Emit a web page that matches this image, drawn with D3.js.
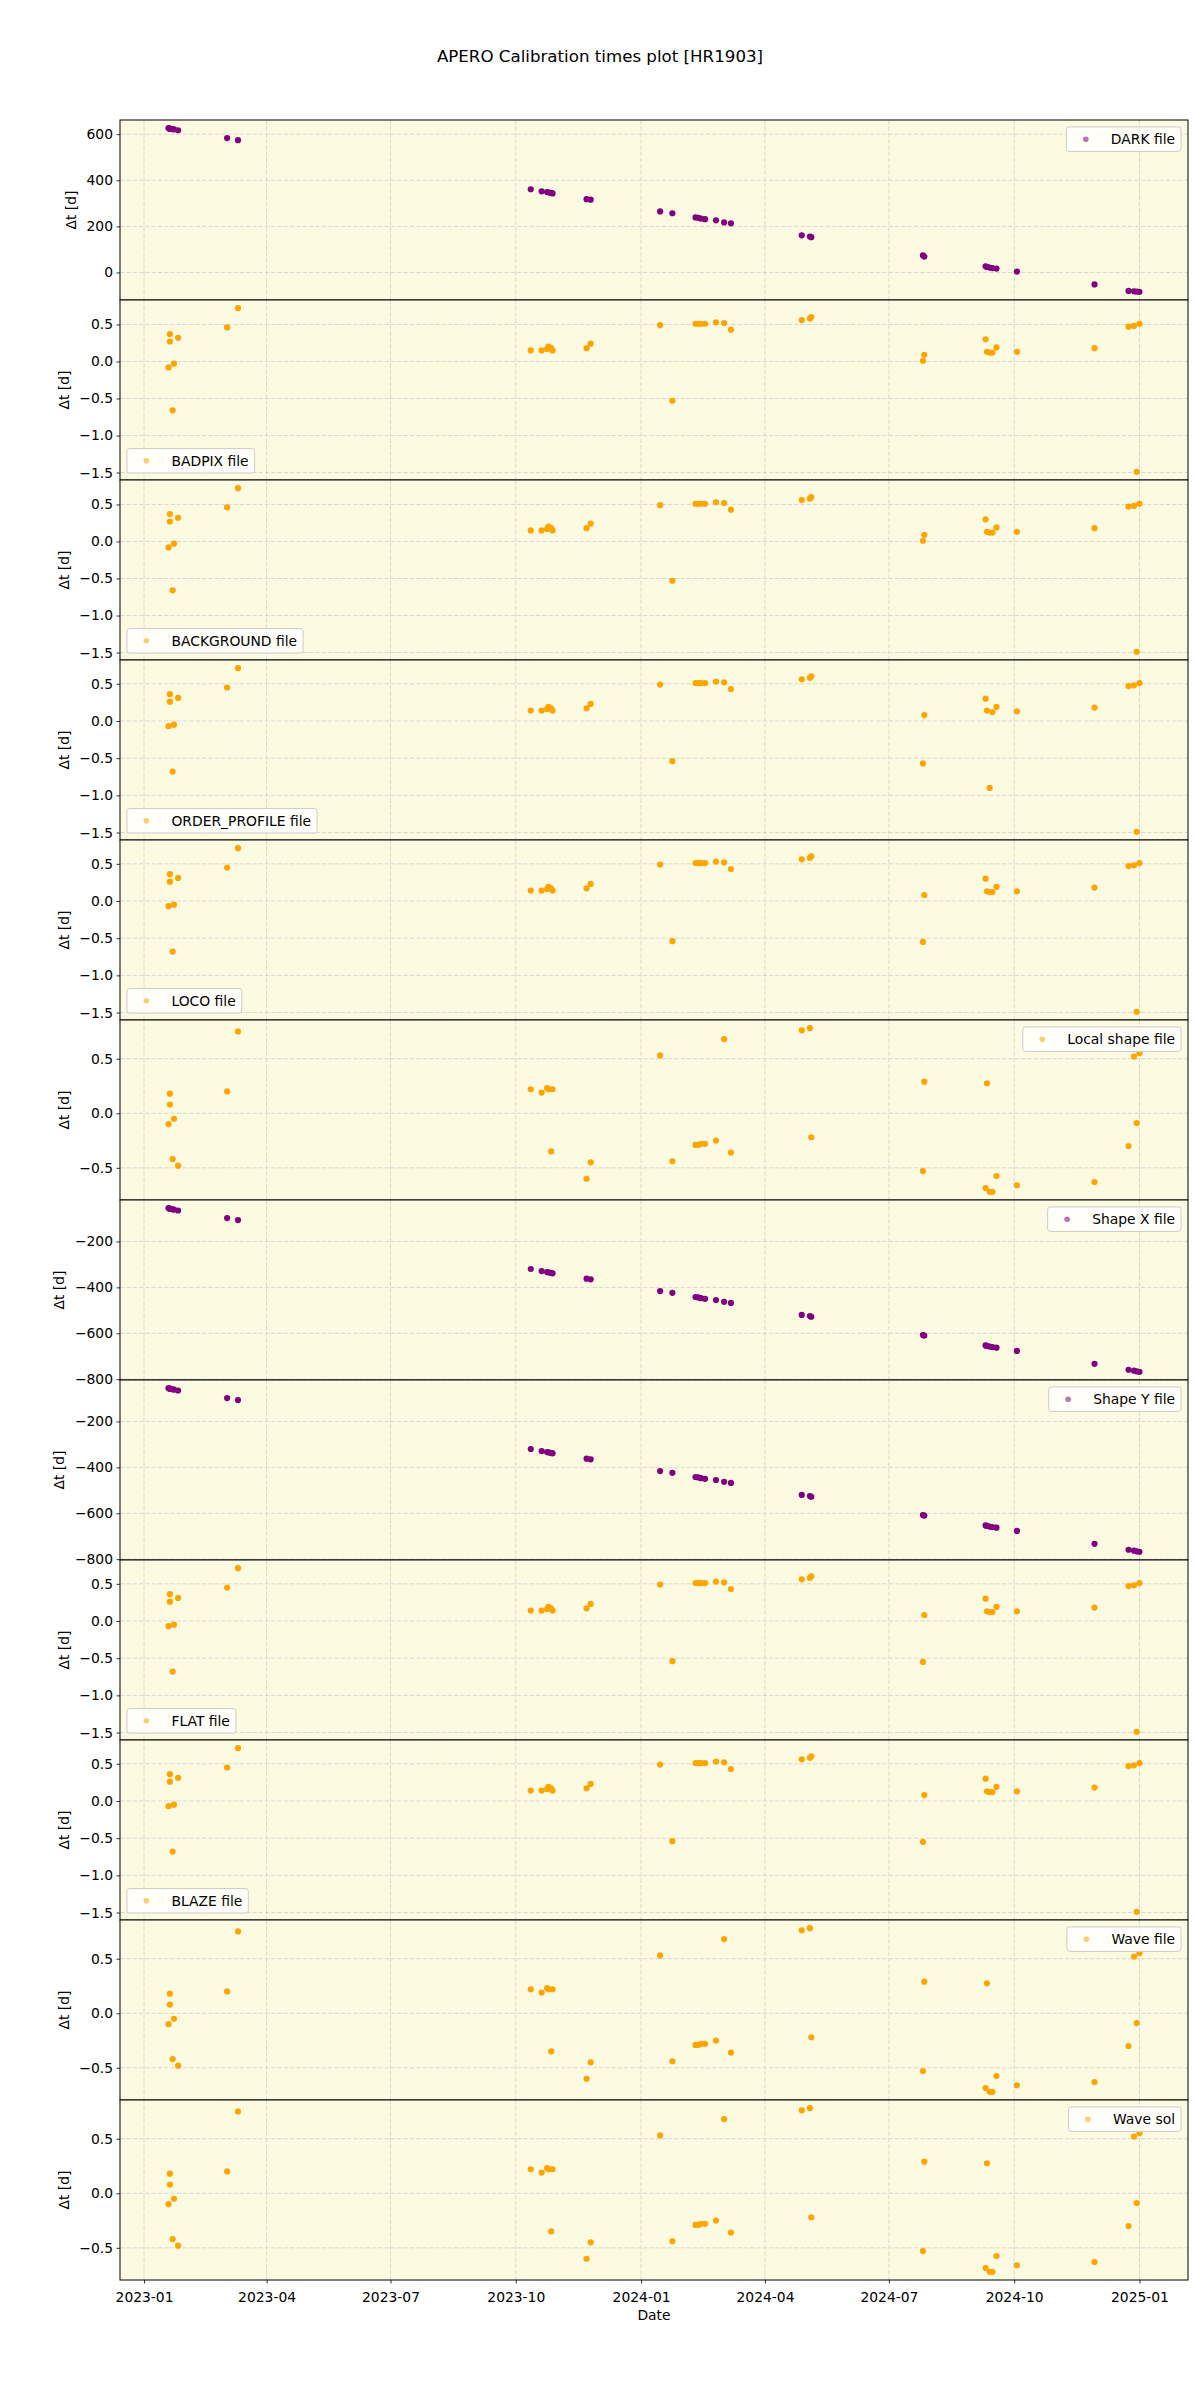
<!DOCTYPE html>
<html><head><meta charset="utf-8">
<script src="https://cdn.jsdelivr.net/npm/d3@7"></script>
<style>body{margin:0;background:#fff} text{font-family:"DejaVu Sans",sans-serif}</style>
</head><body><div id="chart"></div>
<script>
// ---- DATA ----
const obsDates = [
  "2023-01-19","2023-01-20","2023-01-20","2023-01-22","2023-01-23","2023-01-26",
  "2023-03-03","2023-03-11",
  "2023-10-12","2023-10-20","2023-10-24","2023-10-25","2023-10-27","2023-10-28",
  "2023-11-22","2023-11-25",
  "2024-01-15","2024-01-24",
  "2024-02-10","2024-02-12","2024-02-14","2024-02-17","2024-02-25","2024-03-02","2024-03-07",
  "2024-04-28","2024-05-04","2024-05-05",
  "2024-07-26","2024-07-27",
  "2024-09-10","2024-09-11","2024-09-13","2024-09-15","2024-09-18",
  "2024-10-03","2024-11-29",
  "2024-12-24","2024-12-28","2024-12-30","2025-01-01"
];
const darkDt = [626,624,624,622,621,617,583,574,361,352,349,347,345,343,318,316,265,257,239,237,234,231,226,217,213,161,156,153,74,69,27,24,21,19,17,4,-52,-80,-82,-83,-84];
const badpixDt = [-0.08,0.37,0.27,-0.66,-0.03,0.32,0.46,0.72,0.15,0.15,0.17,0.20,0.18,0.15,0.18,0.24,0.49,-0.53,0.51,0.51,0.51,0.51,0.53,0.52,0.43,0.56,0.58,0.60,0.01,0.09,0.30,0.13,0.12,0.12,0.19,0.13,0.18,0.47,0.48,-1.49,0.51];
const backgroundDt = [-0.08,0.37,0.27,-0.66,-0.03,0.32,0.46,0.72,0.15,0.15,0.17,0.20,0.18,0.15,0.18,0.24,0.49,-0.53,0.51,0.51,0.51,0.51,0.53,0.52,0.43,0.56,0.58,0.60,0.01,0.09,0.30,0.13,0.12,0.12,0.19,0.13,0.18,0.47,0.48,-1.49,0.51];
const orderProfileDt = [-0.07,0.36,0.26,-0.68,-0.05,0.31,0.45,0.71,0.14,0.14,0.16,0.19,0.17,0.14,0.17,0.23,0.49,-0.54,0.51,0.51,0.51,0.51,0.53,0.52,0.43,0.56,0.58,0.60,-0.57,0.08,0.30,0.14,-0.90,0.12,0.19,0.13,0.18,0.47,0.48,-1.49,0.51];
const locoDt = [-0.07,0.36,0.26,-0.68,-0.05,0.31,0.45,0.71,0.14,0.14,0.16,0.19,0.17,0.14,0.17,0.23,0.49,-0.54,0.51,0.51,0.51,0.51,0.53,0.52,0.43,0.56,0.58,0.60,-0.55,0.08,0.30,0.13,0.12,0.12,0.19,0.13,0.18,0.47,0.48,-1.49,0.51];
const localShapeDt = [-0.10,0.18,0.08,-0.42,-0.05,-0.48,0.20,0.75,0.22,0.19,0.23,0.22,-0.35,0.22,-0.60,-0.45,0.53,-0.44,-0.29,-0.29,-0.28,-0.28,-0.25,0.68,-0.36,0.76,0.78,-0.22,-0.53,0.29,-0.685,0.275,-0.72,-0.72,-0.575,-0.66,-0.63,-0.30,0.52,-0.09,0.55];
const shapeXDt = [-55,-57,-58,-60,-61,-65,-98,-107,-320,-329,-333,-335,-337,-339,-362,-365,-416,-424,-442,-444,-447,-450,-455,-463,-468,-520,-525,-528,-608,-610,-653,-655,-658,-660,-663,-677,-733,-759,-763,-766,-768];
const shapeYDt = [-55,-57,-58,-60,-61,-65,-98,-107,-320,-329,-333,-335,-337,-339,-362,-365,-416,-424,-442,-444,-447,-450,-455,-463,-468,-520,-525,-528,-608,-610,-653,-655,-658,-660,-663,-677,-733,-759,-763,-766,-768];
const flatDt = [-0.07,0.36,0.26,-0.68,-0.05,0.31,0.45,0.71,0.14,0.14,0.16,0.19,0.17,0.14,0.17,0.23,0.49,-0.54,0.51,0.51,0.51,0.51,0.53,0.52,0.43,0.56,0.58,0.60,-0.55,0.08,0.30,0.13,0.12,0.12,0.19,0.13,0.18,0.47,0.48,-1.49,0.51];
const blazeDt = [-0.07,0.36,0.26,-0.68,-0.05,0.31,0.45,0.71,0.14,0.14,0.16,0.19,0.17,0.14,0.17,0.23,0.49,-0.54,0.51,0.51,0.51,0.51,0.53,0.52,0.43,0.56,0.58,0.60,-0.55,0.08,0.30,0.13,0.12,0.12,0.19,0.13,0.18,0.47,0.48,-1.49,0.51];
const waveFileDt = [-0.10,0.18,0.08,-0.42,-0.05,-0.48,0.20,0.75,0.22,0.19,0.23,0.22,-0.35,0.22,-0.60,-0.45,0.53,-0.44,-0.29,-0.29,-0.28,-0.28,-0.25,0.68,-0.36,0.76,0.78,-0.22,-0.53,0.29,-0.685,0.275,-0.72,-0.72,-0.575,-0.66,-0.63,-0.30,0.52,-0.09,0.55];
const waveSolDt = [-0.10,0.18,0.08,-0.42,-0.05,-0.48,0.20,0.75,0.22,0.19,0.23,0.22,-0.35,0.22,-0.60,-0.45,0.53,-0.44,-0.29,-0.29,-0.28,-0.28,-0.25,0.68,-0.36,0.76,0.78,-0.22,-0.53,0.29,-0.685,0.275,-0.72,-0.72,-0.575,-0.66,-0.63,-0.30,0.52,-0.09,0.55];
const panelLabels = ["DARK file","BADPIX file","BACKGROUND file","ORDER_PROFILE file","LOCO file","Local shape file","Shape X file","Shape Y file","FLAT file","BLAZE file","Wave file","Wave sol"];
const panelSeries = [darkDt,badpixDt,backgroundDt,orderProfileDt,locoDt,localShapeDt,shapeXDt,shapeYDt,flatDt,blazeDt,waveFileDt,waveSolDt];
const titleText = "APERO Calibration times plot [HR1903]";
const yLabelText = "Δt [d]";
const xLabelText = "Date";

// ---- STYLE / LAYOUT ----
const panelColor = ["purple","orange","orange","orange","orange","orange","purple","purple","orange","orange","orange","orange"];
const legendLoc = ["ur","ll","ll","ll","ll","ur","ur","ur","ll","ll","ur","ur"];
const W = 1200, H = 2400;
const L = 120, R = 1188, T = 120, B = 2280;
const FS = 13.89;
const bg = "#fcfbe2";
const gridColor = "#cfcfcf";

const svg = d3.select("#chart").append("svg").attr("width", W).attr("height", H);
svg.append("rect").attr("width", W).attr("height", H).attr("fill", "#fff");

svg.append("text").attr("x", 600).attr("y", 61.5).attr("text-anchor", "middle")
  .attr("font-size", 16.67).text(titleText);

const parse = d3.utcParse("%Y-%m-%d");
const dates = obsDates.map(parse);
const [dmin, dmax] = d3.extent(dates);
const dpad = (dmax - dmin) * 0.05;
const x = d3.scaleUtc().domain([new Date(+dmin - dpad), new Date(+dmax + dpad)]).range([L, R]);
const xTicks = x.ticks(d3.utcMonth.every(3));

const nP = panelSeries.length;
const pH = (B - T) / nP;

panelSeries.forEach((vals, i) => {
  const top = T + i * pH, bot = top + pH;
  const [vmin, vmax] = d3.extent(vals);
  const vp = (vmax - vmin) * 0.05;
  const y = d3.scaleLinear().domain([vmin - vp, vmax + vp]).range([bot, top]);
  const g = svg.append("g");
  g.append("rect").attr("x", L).attr("y", top).attr("width", R - L).attr("height", pH).attr("fill", bg);

  const yt = y.ticks(5);
  g.selectAll(".vg").data(xTicks).join("line")
    .attr("x1", d => x(d)).attr("x2", d => x(d)).attr("y1", top).attr("y2", bot)
    .attr("stroke", gridColor).attr("stroke-width", 0.8).attr("stroke-dasharray", "4.4,1.9");
  g.selectAll(".hg").data(yt).join("line")
    .attr("x1", L).attr("x2", R).attr("y1", d => y(d)).attr("y2", d => y(d))
    .attr("stroke", gridColor).attr("stroke-width", 0.8).attr("stroke-dasharray", "4.4,1.9");

  g.selectAll("circle.pt").data(vals.map((v, j) => ({ d: dates[j], v }))).join("circle")
    .attr("class", "pt").attr("cx", d => x(d.d)).attr("cy", d => y(d.v)).attr("r", 3.1)
    .attr("fill", panelColor[i]);

  const ax = g.append("g").attr("transform", `translate(${L},0)`)
    .call(d3.axisLeft(y).ticks(5).tickSize(3.5).tickPadding(3.5));
  ax.select(".domain").remove();
  ax.attr("font-size", FS).attr("font-family", "DejaVu Sans");
  ax.selectAll("line").attr("stroke", "#000").attr("stroke-width", 0.8);
  ax.selectAll("text").attr("fill", "#000");

  g.append("rect").attr("x", L).attr("y", top).attr("width", R - L).attr("height", pH)
    .attr("fill", "none").attr("stroke", "#000").attr("stroke-width", 1);

  const bb = ax.node().getBBox();
  const lx = L + bb.x - 5.56 - 5;
  g.append("text").attr("transform", `translate(${lx},${(top + bot) / 2}) rotate(-90)`)
    .attr("text-anchor", "middle").attr("font-size", FS).text(yLabelText);

  // legend
  const lg = g.append("g");
  const t = lg.append("text").attr("font-size", FS).text(panelLabels[i]);
  const tw = t.node().getComputedTextLength();
  const bw = tw + 50.5, bh = 24.5;
  const bx = legendLoc[i] === "ur" ? R - 6.94 - bw : L + 6.94;
  const by = legendLoc[i] === "ur" ? top + 6.94 : bot - 6.94 - bh;
  lg.insert("rect", "text").attr("x", bx).attr("y", by).attr("width", bw).attr("height", bh)
    .attr("rx", 2.8).attr("fill", "#fff").attr("fill-opacity", 0.8)
    .attr("stroke", "#cccccc").attr("stroke-width", 1);
  lg.insert("circle", "text").attr("cx", bx + 5.56 + 13.9).attr("cy", by + bh / 2).attr("r", 2.8)
    .attr("fill", panelColor[i]).attr("fill-opacity", 0.55);
  t.attr("x", bx + 44.5).attr("y", by + bh / 2 + 5.1);

  if (i === nP - 1) {
    const xa = g.append("g").attr("transform", `translate(0,${bot})`)
      .call(d3.axisBottom(x).ticks(d3.utcMonth.every(3)).tickFormat(d3.utcFormat("%Y-%m")).tickSize(3.5));
    xa.select(".domain").remove();
    xa.attr("font-size", FS).attr("font-family", "DejaVu Sans");
    xa.selectAll("line").attr("stroke", "#000").attr("stroke-width", 0.8);
    xa.selectAll("text").attr("fill", "#000").attr("dy", null).attr("y", 21.5);
    g.append("text").attr("x", (L + R) / 2).attr("y", 2320).attr("text-anchor", "middle")
      .attr("font-size", FS).text(xLabelText);
  }
});
</script></body></html>
